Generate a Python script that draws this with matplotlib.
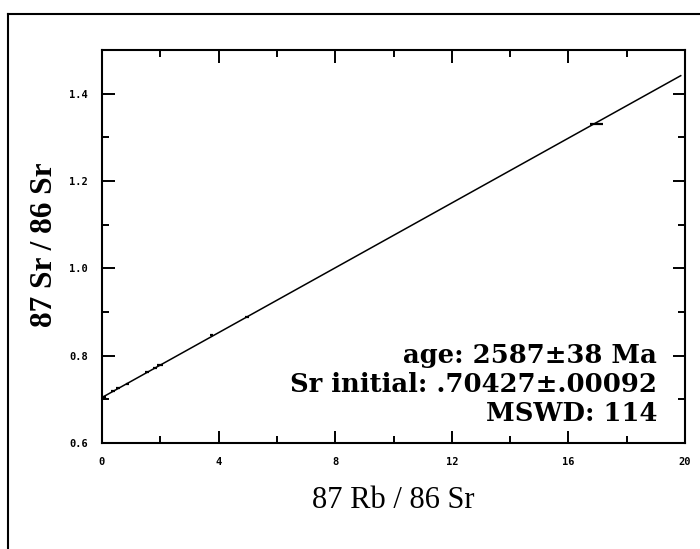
import matplotlib.pyplot as plt
import numpy as np
from matplotlib.lines import Line2D
from matplotlib.ticker import MultipleLocator

# Rb-Sr isochron: analysed samples
rb_sr = [0.10, 0.38, 0.55, 0.86, 1.54, 1.82, 1.99, 3.77, 4.97, 16.95]
sr_sr = [0.7045, 0.7186, 0.7252, 0.7360, 0.7625, 0.7725, 0.7780, 0.8465, 0.8895, 1.3310]
rb_err = [0.05, 0.08, 0.06, 0.05, 0.06, 0.08, 0.10, 0.05, 0.06, 0.22]

# regression line
intercept = 0.70427
slope = 0.03712
line_x = [0.0, 19.85]

result_lines = ["age: 2587\u00b138 Ma", "Sr initial: .70427\u00b1.00092", "MSWD: 114"]

fig = plt.figure(figsize=(7.0, 5.49), dpi=100)
ax = fig.add_axes((0.1457, 0.193, 0.833, 0.716))

lx = np.array(line_x)
ax.plot(lx, intercept + slope * lx, '-', c='k', lw=1.1)
ax.errorbar(rb_sr, sr_sr, xerr=rb_err, yerr=0.002, fmt='none', ecolor='k', elinewidth=1.6, capsize=0)

ax.set_xlim(0, 20)
ax.set_ylim(0.6, 1.5)
ax.xaxis.set_major_locator(MultipleLocator(4))
ax.xaxis.set_minor_locator(MultipleLocator(2))
ax.yaxis.set_major_locator(MultipleLocator(0.2))
ax.yaxis.set_minor_locator(MultipleLocator(0.1))
ax.set_yticks([0.6, 0.8, 1.0, 1.2, 1.4])
ax.set_yticklabels(["0.6", "0.8", "1.0", "1.2", "1.4"])
ax.tick_params(which='both', direction='in', top=True, right=True, width=1.4, pad=10,
               labelsize=7.5)
ax.tick_params(which='major', length=9)
ax.tick_params(which='minor', length=5)
for lab in ax.get_xticklabels() + ax.get_yticklabels():
    lab.set_family('DejaVu Sans Mono')
    lab.set_fontweight('bold')
for s in ax.spines.values():
    s.set_linewidth(1.5)

ax.set_xlabel("87 Rb / 86 Sr", family='Liberation Serif', fontsize=22, labelpad=14)
ax.set_ylabel("87 Sr / 86 Sr", family='Liberation Serif', fontweight='bold', fontsize=22.5)
ax.yaxis.set_label_coords(-0.074, 0.505)

for i, t in enumerate(result_lines):
    ax.text(0.952, 0.204 - 0.074 * i, t, transform=ax.transAxes, ha='right', va='baseline',
            family='DejaVu Serif', fontweight='bold', fontsize=18.6)

# scanned page border
fig.add_artist(Line2D([0.012, 0.012], [0.0, 0.975], transform=fig.transFigure, c='k', lw=1.5))
fig.add_artist(Line2D([0.012, 1.0], [0.975, 0.975], transform=fig.transFigure, c='k', lw=1.5))

fig.savefig('out.png', dpi=100)
